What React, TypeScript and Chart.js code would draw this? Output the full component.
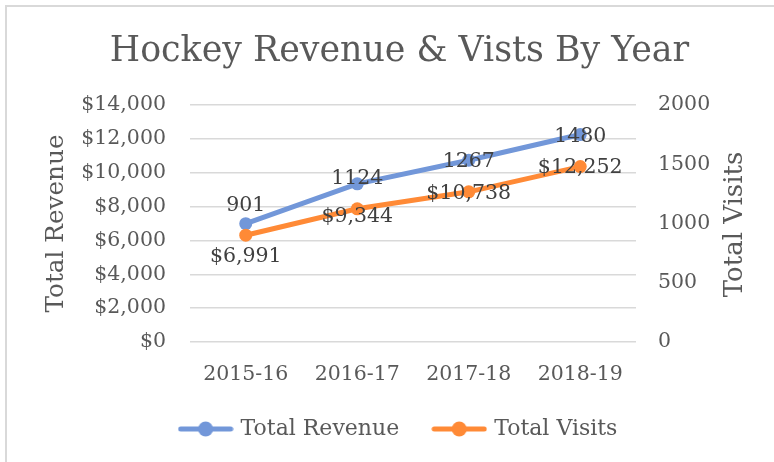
import React, { useEffect, useRef } from 'react';
import { Chart, registerables } from 'chart.js';

Chart.register(...registerables);

const categories = ['2015-16', '2016-17', '2017-18', '2018-19'];
const revenue = [6991, 9344, 10738, 12252];
const visits = [901, 1124, 1267, 1480];
const chartTitle = 'Hockey Revenue & Vists By Year';
const revenueLabel = 'Total Revenue';
const visitsLabel = 'Total Visits';
const revenueAxisTitle = 'Total Revenue';
const visitsAxisTitle = 'Total Visits';

const BLUE = 'rgb(114,151,217)';
const ORANGE = 'rgb(255,138,54)';
const TEXT = '#595959';
const LABEL = '#404040';
const GRID = '#d9d9d9';
const FAMILY = '"DejaVu Serif", serif';
const SMALL = 20.5;
const LEGEND = 22;

const money = (v: number) => '$' + v.toLocaleString('en-US');

function legendSymbol(color: string) {
  const c = document.createElement('canvas');
  c.width = 56;
  c.height = 16;
  const g = c.getContext('2d')!;
  g.strokeStyle = color;
  g.lineWidth = 5;
  g.lineCap = 'round';
  g.beginPath();
  g.moveTo(3, 8);
  g.lineTo(53, 8);
  g.stroke();
  g.fillStyle = color;
  g.beginPath();
  g.arc(28, 8, 7.5, 0, Math.PI * 2);
  g.fill();
  return c;
}

const labelsPlugin = {
  id: 'valueLabels',
  afterDatasetsDraw(chart: any) {
    const ctx = chart.ctx;
    const mR = chart.getDatasetMeta(0);
    const mV = chart.getDatasetMeta(1);
    ctx.save();
    ctx.font = `${SMALL}px ${FAMILY}`;
    ctx.fillStyle = LABEL;
    ctx.textAlign = 'center';
    ctx.textBaseline = 'middle';
    mV.data.forEach((pt: any, i: number) => {
      ctx.fillText(String(visits[i]), pt.x, pt.y - 30);
    });
    mR.data.forEach((pt: any, i: number) => {
      ctx.fillText(money(revenue[i]), pt.x, pt.y + 33);
    });
    ctx.restore();
  },
};

const rightTitlePlugin = {
  id: 'rightTitle',
  afterDraw(chart: any) {
    const ctx = chart.ctx;
    const area = chart.chartArea;
    ctx.save();
    ctx.font = `26px ${FAMILY}`;
    ctx.fillStyle = TEXT;
    ctx.textAlign = 'center';
    ctx.textBaseline = 'middle';
    ctx.translate(735, (area.top + area.bottom) / 2 + 1);
    ctx.rotate(-Math.PI / 2);
    ctx.fillText(visitsAxisTitle, 0, 0);
    ctx.restore();
  },
};

export default function App() {
  const ref = useRef<HTMLCanvasElement>(null);

  useEffect(() => {
    const canvas = ref.current!;
    const symR = legendSymbol(BLUE);
    const symV = legendSymbol(ORANGE);
    const chart = new Chart(canvas, {
      type: 'line',
      data: {
        labels: categories,
        datasets: [
          {
            label: revenueLabel,
            data: revenue,
            yAxisID: 'y',
            borderColor: BLUE,
            backgroundColor: BLUE,
            borderWidth: 5,
            pointRadius: 6.5,
            pointBorderWidth: 0,
            pointBackgroundColor: BLUE,
            order: 1,
          },
          {
            label: visitsLabel,
            data: visits,
            yAxisID: 'y1',
            borderColor: ORANGE,
            backgroundColor: ORANGE,
            borderWidth: 5,
            pointRadius: 6.5,
            pointBorderWidth: 0,
            pointBackgroundColor: ORANGE,
            order: 0,
          },
        ],
      },
      options: {
        responsive: false,
        animation: false,
        layout: { padding: { top: 0, left: 25, right: 0, bottom: 12 } },
        plugins: {
          title: {
            display: true,
            text: chartTitle,
            color: TEXT,
            font: { family: FAMILY, size: 34.8, weight: 'normal' },
            padding: { top: 31, bottom: 32.2 },
          },
          legend: {
            position: 'bottom',
            labels: {
              color: TEXT,
              font: { family: FAMILY, size: LEGEND },
              usePointStyle: true,
              pointStyleWidth: 48,
              padding: 36,
              generateLabels: () => [
                { text: revenueLabel, pointStyle: symR, fillStyle: BLUE, strokeStyle: BLUE, lineWidth: 0, datasetIndex: 0, fontColor: TEXT },
                { text: visitsLabel, pointStyle: symV, fillStyle: ORANGE, strokeStyle: ORANGE, lineWidth: 0, datasetIndex: 1, fontColor: TEXT },
              ] as any,
            },
          },
          tooltip: { enabled: false },
        },
        scales: {
          x: {
            offset: true,
            grid: { display: false, drawTicks: false },
            border: { display: false },
            ticks: { color: TEXT, font: { family: FAMILY, size: SMALL }, padding: 20.7 },
            afterFit: (s: any) => { s.height = 40; },
          },
          y: {
            position: 'left',
            min: 0,
            max: 14000,
            grid: { color: GRID, lineWidth: 1.5, drawTicks: false },
            border: { display: false },
            ticks: {
              stepSize: 2000,
              color: TEXT,
              font: { family: FAMILY, size: SMALL },
              padding: 24,
              callback: (v: any) => money(Number(v)),
            },
            title: {
              display: true,
              text: revenueAxisTitle,
              color: TEXT,
              font: { family: FAMILY, size: 24.7 },
              padding: { top: 17.2, bottom: 0 },
            },
            afterFit: (s: any) => { s.width = 165; },
          },
          y1: {
            position: 'right',
            min: 0,
            max: 2000,
            grid: { display: false, drawTicks: false },
            border: { display: false },
            ticks: {
              stepSize: 500,
              color: TEXT,
              font: { family: FAMILY, size: SMALL },
              padding: 22,
              callback: (v: any) => String(v),
            },
            afterFit: (s: any) => { s.width = 138; },
          },
        },
      },
      plugins: [labelsPlugin, rightTitlePlugin],
    });
    return () => chart.destroy();
  }, []);

  return (
    <div style={{ position: 'fixed', left: 0, top: 0, width: 774, height: 462, background: '#fff', overflow: 'hidden' }}>
      <canvas ref={ref} width={774} height={462} style={{ display: 'block' }} />
      <div
        style={{
          position: 'absolute',
          left: 5,
          top: 5,
          width: 800,
          height: 500,
          borderLeft: `2px solid ${GRID}`,
          borderTop: `2px solid ${GRID}`,
          pointerEvents: 'none',
        }}
      />
    </div>
  );
}
